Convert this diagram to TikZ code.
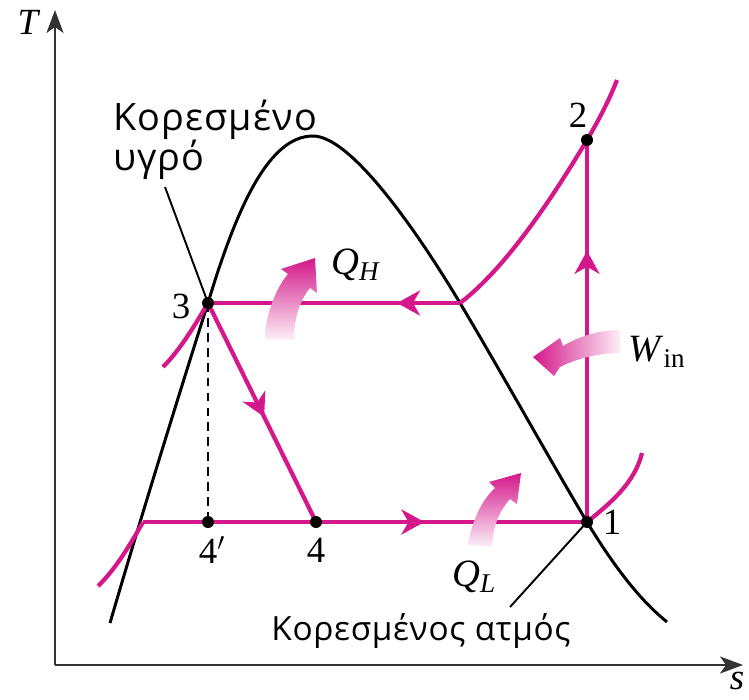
\documentclass[tikz,border=0pt]{standalone}
\usepackage{fontspec}
\setmainfont{Liberation Serif}
\newfontfamily\grfont[LetterSpace=3]{Open Sans}
\newfontfamily\grfontb[LetterSpace=2]{Open Sans}
\definecolor{CYCPINK}{HTML}{D4178A}
\usetikzlibrary{arrows.meta,decorations.markings}

\begin{document}
\begin{tikzpicture}[x=0.02cm, y=-0.02cm,
  %% Axes and saturation dome
  axis/.style={draw=black!80, line width=1.1pt,
    -{Stealth[length=0.46cm, width=0.34cm, inset=0.12cm]}},
  dome/.style={draw=black, line width=1.7pt},
  %% Cycle lines — solid pink
  cyc/.style={draw=CYCPINK, line width=2.4pt},
  midarr/.style={postaction={decorate, decoration={markings,
      mark=at position #1 with {\arrow{Stealth[length=0.46cm, width=0.5cm, inset=0.14cm]}}}}},
  leader/.style={draw=black, line width=1.1pt},
  dashln/.style={draw=black, line width=1.1pt, dash pattern=on 5pt off 3.5pt},
  dot/.style={circle, fill=black, inner sep=0pt, minimum size=0.24cm},
  %% Labels
  ptlbl/.style={font=\fontsize{21}{21}\selectfont, inner sep=0pt},
  qlbl/.style={font=\fontsize{22}{22}\selectfont, inner sep=0pt},
  grtxt/.style={font=\grfont\fontsize{21.5}{22.7}\selectfont, align=left, inner sep=0pt},
  grtxtb/.style={font=\grfontb\fontsize{19}{21}\selectfont, inner sep=0pt}
]
\useasboundingbox (0,0) rectangle (749,699);

%% ── State points ─────────────────────────────────────────────
\coordinate (O)   at (55,665);
\coordinate (Tax) at (55,10);
\coordinate (sax) at (743,665);
\coordinate (p1)  at (587,522);
\coordinate (p2)  at (587,140);
\coordinate (p3)  at (208,303);
\coordinate (p4)  at (316,522);
\coordinate (p4p) at (208,522);
\coordinate (gv)  at (460,303);
\coordinate (fl)  at (143,522);

%% ── Axes ─────────────────────────────────────────────────────
\draw[axis] (O) -- (Tax);
\draw[axis] (O) -- (sax);
\node[ptlbl] (Tl) at (29,22)  {\textit{T}};
\node[ptlbl] (sl) at (737,681) {\textit{s}};

%% ── Saturation dome ──────────────────────────────────────────
\draw[dome] (110,623) .. controls (140,520) and (185,375) .. (p3)
  .. controls (238,203) and (270,136) .. (313,136)
  .. controls (352,136) and (420,236) .. (gv)
  .. controls (500,370) and (550,460) .. (p1)
  .. controls (615,568) and (640,600) .. (667,622);

%% ── Cycle ────────────────────────────────────────────────────
\draw[cyc, midarr=0.71] (p1) -- (p2);
\draw[cyc] (gv) .. controls (510,265) and (560,185) .. (p2)
  .. controls (600,118) and (610,98) .. (617,80);
\draw[cyc, midarr=0.25] (gv) -- (p3);
\draw[cyc, midarr=0.52] (p3) -- (p4);
\draw[cyc] (fl) -- (p4);
\draw[cyc, midarr=0.40] (p4) -- (p1);
\draw[dashln] (p3) -- (p4p);

%% constant-pressure lines outside the dome
\draw[cyc] (p3) .. controls (195,325) and (180,350) .. (163,367);
\draw[cyc] (fl) .. controls (130,545) and (115,570) .. (98,586);
\draw[cyc] (p1) .. controls (612,502) and (635,482) .. (642,453);

%% ── Heat / work arrows ───────────────────────────────────────
\shade[top color=CYCPINK, bottom color=CYCPINK!6]
  (265,340) .. controls (265,315) and (276,288) .. (288,274)
  -- (281,269) -- (315,258) -- (317,293) -- (310,288)
  .. controls (300,300) and (294,318) .. (294,340) -- cycle;
\shade[left color=CYCPINK, right color=CYCPINK!6]
  (620,330) .. controls (598,330) and (578,337) .. (563,346)
  -- (560,338) -- (533,357) -- (554,376) -- (560,367)
  .. controls (578,358) and (600,353) .. (621,353) -- cycle;
\shade[top color=CYCPINK, bottom color=CYCPINK!6]
  (468,545) .. controls (472,520) and (482,500) .. (495,488)
  -- (489,482) -- (521,473) -- (517,504) -- (510,499)
  .. controls (500,510) and (493,525) .. (492,547) -- cycle;

\node[qlbl] (qh) at (356,265) {\textit{Q}\textsubscript{\textit{H}}};
\node[qlbl] (ql) at (474,577) {\textit{Q}\textsubscript{\textit{L}}};
\node[qlbl] (win) at (657,352) {\textit{W}\textsubscript{in}};

%% ── Callouts ─────────────────────────────────────────────────
\coordinate (liqtip) at (165,187);
\coordinate (vaptip) at (510,607);
\draw[leader] (liqtip) -- (p3);
\draw[leader] (vaptip) -- (p1);
\node[grtxt, anchor=north west] (liq) at (113,100) {Κορεσμένο\\υγρό};
\node[grtxtb] (vap) at (421,631) {Κορεσμένος ατμός};

%% ── Points ───────────────────────────────────────────────────
\foreach \p in {p1,p2,p3,p4,p4p} \node[dot] at (\p) {};
\node[ptlbl] (l1)  at (612,522) {1};
\node[ptlbl] (l2)  at (578,115) {2};
\node[ptlbl] (l3)  at (181,306) {3};
\node[ptlbl] (l4)  at (316,550) {4};
\node[ptlbl] (l4p) at (212,550) {4$'$};

\end{tikzpicture}
\end{document}
